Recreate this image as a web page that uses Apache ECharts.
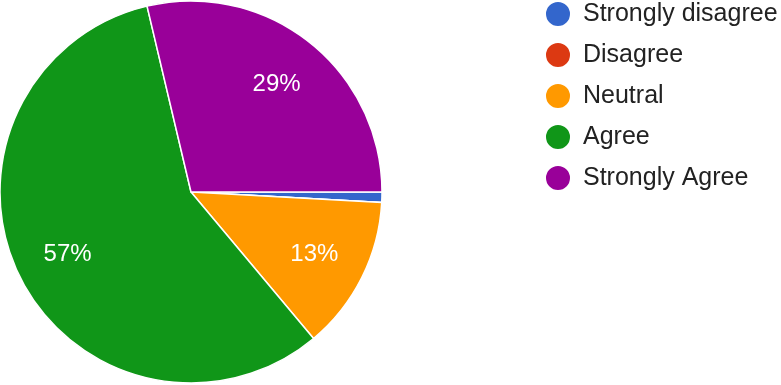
<!DOCTYPE html>
<html><head><meta charset="utf-8">
<script src="https://cdn.jsdelivr.net/npm/echarts@6/dist/echarts.min.js"></script>
<style>html,body{margin:0;padding:0;background:#fff}#c{width:781px;height:385px}</style>
</head><body><div id="c"></div>
<script>
const categories = ['Strongly disagree', 'Disagree', 'Neutral', 'Agree', 'Strongly Agree'];
const counts = [1, 0, 15, 66, 33];
const colors = ['#3366cc', '#dc3912', '#ff9900', '#109618', '#990099'];

const data = categories.map((n, i) => ({ name: n, value: counts[i], itemStyle: { color: colors[i] } }));
const chart = echarts.init(document.getElementById('c'));
chart.setOption({
  animation: false,
  legend: {
    orient: 'vertical', left: 544, top: 0, padding: 0,
    itemWidth: 26, itemHeight: 26, itemGap: 13, icon: 'circle',
    data: categories,
    textStyle: { fontSize: 25, lineHeight: 26, color: '#222', fontFamily: 'Liberation Sans, Arial, sans-serif', padding: [0, 0, 0, 7] }
  },
  series: [{
    type: 'pie', center: [191, 192], radius: [0, 191], startAngle: 0, clockwise: true,
    avoidLabelOverlap: false,
    itemStyle: { borderColor: '#fff', borderWidth: 1.5 },
    label: { show: false }, labelLine: { show: false },
    emphasis: { disabled: true },
    data: data
  }, {
    type: 'pie', center: [191, 193], radius: [86, 184], startAngle: 0, clockwise: true,
    silent: true, legendHoverLink: false, avoidLabelOverlap: false,
    itemStyle: { color: 'rgba(0,0,0,0)' },
    label: {
      show: true, position: 'inside', color: '#fff', fontSize: 24,
      fontFamily: 'Liberation Sans, Arial, sans-serif',
      formatter: p => p.percent < 5 ? '' : Math.round(p.percent) + '%'
    },
    labelLine: { show: false },
    data: categories.map((n, i) => ({ name: n, value: counts[i] }))
  }]
});
</script></body></html>
